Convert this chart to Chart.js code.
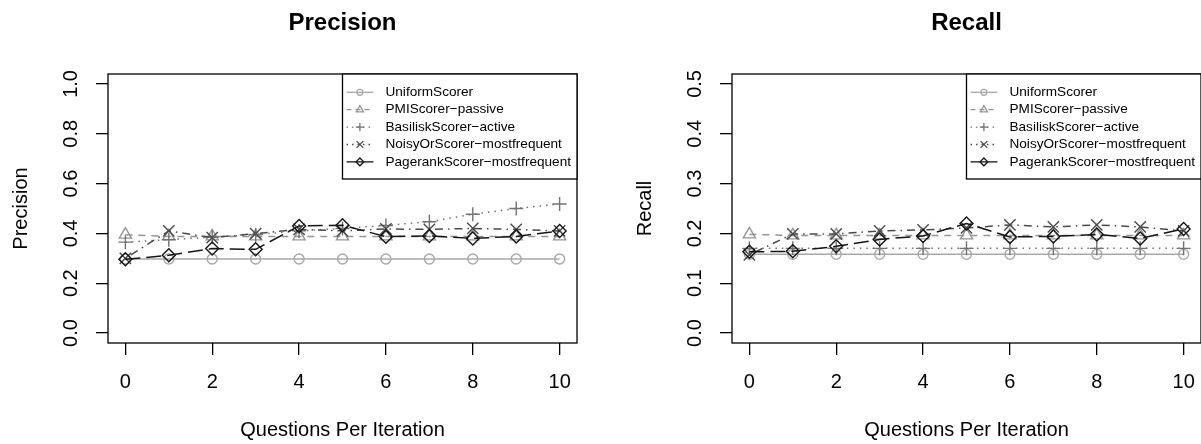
<!DOCTYPE html>
<html>
<head>
<meta charset="utf-8">
<script src="https://cdn.jsdelivr.net/npm/chart.js"></script>
<style>
  html, body { margin: 0; padding: 0; background: #fff; overflow: hidden; width: 1201px; height: 444px; }
  .panel { position: absolute; top: 0; width: 600px; height: 444px; }
  #precisionPanel { left: 0; }
  #recallPanel { left: 624px; }
</style>
</head>
<body>
<div class="panel" id="precisionPanel"><canvas id="precisionChart" width="600" height="444"></canvas></div>
<div class="panel" id="recallPanel"><canvas id="recallChart" width="600" height="444"></canvas></div>
<script>
const iterations = [0, 1, 2, 3, 4, 5, 6, 7, 8, 9, 10];
const xTicks = [0, 2, 4, 6, 8, 10];
const precisionTicks = [0, 0.2, 0.4, 0.6, 0.8, 1.0];
const recallTicks = [0, 0.1, 0.2, 0.3, 0.4, 0.5];

const scorerNames = [
  'UniformScorer',
  'PMIScorer\u2212passive',
  'BasiliskScorer\u2212active',
  'NoisyOrScorer\u2212mostfrequent',
  'PagerankScorer\u2212mostfrequent'
];

// precision per scorer
const uniformPrecision  = [0.297, 0.297, 0.297, 0.297, 0.297, 0.297, 0.297, 0.297, 0.297, 0.297, 0.297];
const pmiPrecision      = [0.395, 0.388, 0.388, 0.388, 0.388, 0.388, 0.388, 0.388, 0.388, 0.388, 0.388];
const basiliskPrecision = [0.365, 0.375, 0.385, 0.395, 0.41, 0.42, 0.432, 0.447, 0.477, 0.50, 0.518];
const noisyOrPrecision  = [0.30, 0.41, 0.383, 0.399, 0.416, 0.41, 0.418, 0.416, 0.42, 0.416, 0.41];
const pagerankPrecision = [0.296, 0.312, 0.339, 0.336, 0.43, 0.433, 0.387, 0.39, 0.38, 0.388, 0.41];

// recall per scorer
const uniformRecall  = [0.158, 0.158, 0.158, 0.158, 0.158, 0.158, 0.158, 0.158, 0.158, 0.158, 0.158];
const pmiRecall      = [0.198, 0.196, 0.196, 0.196, 0.196, 0.196, 0.196, 0.196, 0.196, 0.196, 0.196];
const basiliskRecall = [0.17, 0.17, 0.17, 0.17, 0.17, 0.17, 0.17, 0.17, 0.17, 0.17, 0.17];
const noisyOrRecall  = [0.157, 0.199, 0.199, 0.205, 0.207, 0.211, 0.217, 0.213, 0.217, 0.213, 0.205];
const pagerankRecall = [0.163, 0.164, 0.174, 0.188, 0.195, 0.22, 0.193, 0.194, 0.198, 0.19, 0.209];

const FONT = '"Liberation Sans", Arial, Helvetica, sans-serif';

// line / marker look for each scorer, R-style greys and dash types
const seriesStyles = [
  { color: '#a8a8a8', dash: [],             legendDash: [],       point: 'circle',   radius: 5 },
  { color: '#959595', dash: [7, 6],         legendDash: [5, 4],   point: 'triangle', radius: 7 },
  { color: '#727272', dash: [1.5, 5],       legendDash: [1.5, 4], point: 'cross',    radius: 7 },
  { color: '#4a4a4a', dash: [1.5, 5, 8, 5], legendDash: [1.5, 4], point: 'crossRot', radius: 8 },
  { color: '#151515', dash: [15, 6],        legendDash: [],       point: 'rectRot',  radius: 6.5 }
];

function buildDatasets(seriesList) {
  return seriesList.map((values, i) => {
    const s = seriesStyles[i];
    return {
      label: scorerNames[i],
      data: iterations.map((x, j) => ({ x: x, y: values[j] })),
      borderColor: s.color,
      borderWidth: 1.5,
      borderDash: s.dash,
      legendDash: s.legendDash,
      pointStyle: s.point,
      pointRadius: s.radius,
      pointBorderColor: s.color,
      pointBackgroundColor: 'rgba(0,0,0,0)',
      pointBorderWidth: 1.4,
      tension: 0,
      order: seriesList.length - i
    };
  });
}

// frame round the plot region
const frameBox = {
  id: 'frameBox',
  afterDraw(chart) {
    const { ctx, chartArea: a } = chart;
    ctx.save();
    ctx.strokeStyle = '#000';
    ctx.lineWidth = 1.3;
    ctx.strokeRect(a.left, a.top, a.right - a.left, a.bottom - a.top);
    ctx.restore();
  }
};

// topright legend with line sample and marker, like base R legend()
const boxLegend = {
  id: 'boxLegend',
  afterDraw(chart) {
    const { ctx, chartArea: a } = chart;
    const sets = chart.data.datasets;
    ctx.save();
    ctx.font = '13.6px ' + FONT;
    const textW = Math.max(...sets.map(d => ctx.measureText(d.label).width));
    const w = 43 + textW + 6;
    const h = 105;
    const left = a.right - w;
    const top = a.top;
    ctx.fillStyle = '#fff';
    ctx.fillRect(left, top, w, h);
    ctx.strokeStyle = '#000';
    ctx.lineWidth = 1.3;
    ctx.setLineDash([]);
    ctx.strokeRect(left, top, w, h);

    sets.forEach((ds, i) => {
      const y = top + 18.3 + i * 17.4;
      ctx.strokeStyle = ds.borderColor;
      ctx.lineWidth = 1.3;
      ctx.setLineDash(ds.legendDash);
      ctx.beginPath();
      ctx.moveTo(left + 4, y);
      ctx.lineTo(left + 31, y);
      ctx.stroke();
      ctx.setLineDash([]);
      ctx.fillStyle = 'rgba(0,0,0,0)';
      Chart.helpers.drawPoint(ctx, {
        pointStyle: ds.pointStyle,
        radius: ds.pointRadius * 0.6,
        rotation: 0,
        borderWidth: 1.1
      }, left + 17.4, y);
      ctx.fillStyle = '#000';
      ctx.textAlign = 'left';
      ctx.textBaseline = 'middle';
      ctx.fillText(ds.label, left + 43, y);
    });
    ctx.restore();
  }
};

function makeChart(canvasId, title, yLabel, seriesList, yTicks, yMin, yMax) {
  const axisFont = { family: FONT, size: 20 };
  return new Chart(document.getElementById(canvasId), {
    type: 'line',
    data: { datasets: buildDatasets(seriesList) },
    options: {
      responsive: false,
      animation: false,
      layout: { padding: { left: 0, right: 23, top: 0, bottom: 0 }, autoPadding: false },
      plugins: {
        legend: { display: false },
        tooltip: { enabled: false },
        title: {
          display: true,
          text: title,
          fullSize: false,
          color: '#000',
          font: { family: FONT, size: 24, weight: 'bold' },
          padding: { top: 8.6, bottom: 36.6 }
        }
      },
      scales: {
        x: {
          type: 'linear',
          min: -0.4,
          max: 10.4,
          afterBuildTicks: s => { s.ticks = xTicks.map(v => ({ value: v })); },
          afterFit: s => { s.height = 101; },
          border: { display: false },
          grid: { drawOnChartArea: false, drawTicks: true, tickLength: 12, color: '#000', lineWidth: 1.3 },
          ticks: { color: '#000', font: axisFont, padding: 15, maxRotation: 0, autoSkip: false },
          title: { display: true, text: 'Questions Per Iteration', color: '#000', font: axisFont, padding: { top: 0, bottom: 2 } }
        },
        y: {
          type: 'linear',
          min: yMin,
          max: yMax,
          afterBuildTicks: s => { s.ticks = yTicks.map(v => ({ value: v })); },
          afterFit: s => { s.width = 108; },
          border: { display: false },
          grid: { drawOnChartArea: false, drawTicks: true, tickLength: 12, color: '#000', lineWidth: 1.3 },
          ticks: {
            color: '#000', font: axisFont, padding: 11.1,
            minRotation: 90, maxRotation: 90, crossAlign: 'center', autoSkip: false,
            callback: v => v.toFixed(1)
          },
          title: { display: true, text: yLabel, color: '#000', font: axisFont, padding: { top: 9, bottom: 0 } }
        }
      }
    },
    plugins: [frameBox, boxLegend]
  });
}

makeChart('precisionChart', 'Precision', 'Precision',
  [uniformPrecision, pmiPrecision, basiliskPrecision, noisyOrPrecision, pagerankPrecision],
  precisionTicks, -0.04, 1.04);

makeChart('recallChart', 'Recall', 'Recall',
  [uniformRecall, pmiRecall, basiliskRecall, noisyOrRecall, pagerankRecall],
  recallTicks, -0.02, 0.52);
</script>
</body>
</html>
